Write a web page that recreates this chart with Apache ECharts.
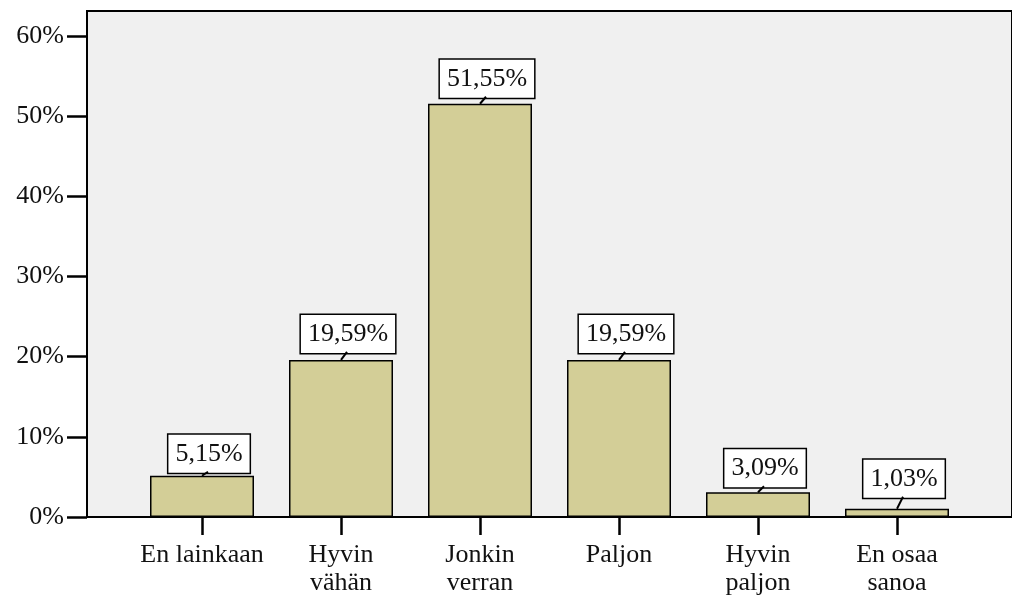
<!DOCTYPE html>
<html>
<head>
<meta charset="utf-8">
<script src="https://cdn.jsdelivr.net/npm/echarts@6/dist/echarts.min.js"></script>
<style>html,body{margin:0;padding:0;background:#fff}#c{width:1012px;height:600px}</style>
</head>
<body>
<div id="c"></div>
<script>
const categories = ["En lainkaan", "Hyvin\nvähän", "Jonkin\nverran", "Paljon", "Hyvin\npaljon", "En osaa\nsanoa"];
const values = [5.15, 19.59, 51.55, 19.59, 3.09, 1.03];
const yTicks = [0, 10, 20, 30, 40, 50, 60];
const labelGap = [3, 7, 6, 7, 5, 11];

const FONT = "'Liberation Serif', 'Times New Roman', serif";
const chart = echarts.init(document.getElementById('c'), null, {renderer: 'canvas'});
const Y_MAX = 63.12;

chart.setOption({
  animation: false,
  backgroundColor: '#ffffff',
  grid: [
    {left: 132.5, right: 45.5, top: 11, bottom: 83, show: false},
    {left: 87, right: -2, top: 11, bottom: 83, show: true, backgroundColor: '#F0F0F0', borderColor: '#000', borderWidth: 2, z: 0}
  ],
  xAxis: [
    {
      type: 'category', gridIndex: 0, data: categories,
      axisLine: {show: false},
      axisTick: {show: true, alignWithLabel: true, length: 18, lineStyle: {color: '#000', width: 2.5}},
      axisLabel: {color: '#111', fontFamily: FONT, fontSize: 26, lineHeight: 28, margin: 24, interval: 0}
    },
    {
      type: 'value', gridIndex: 1, min: 0, max: 1,
      axisLine: {show: true, onZero: false, lineStyle: {color: '#000', width: 2}},
      axisTick: {show: false}, axisLabel: {show: false}, splitLine: {show: false}
    }
  ],
  yAxis: [
    {
      type: 'value', gridIndex: 0, min: 0, max: Y_MAX,
      axisLine: {show: false}, axisTick: {show: false}, axisLabel: {show: false}, splitLine: {show: false}
    },
    {
      type: 'value', gridIndex: 1, min: 0, max: Y_MAX,
      axisLine: {show: true, lineStyle: {color: '#000', width: 2}},
      axisTick: {show: true, length: 20, customValues: yTicks, lineStyle: {color: '#000', width: 2.5}},
      axisLabel: {show: true, customValues: yTicks, formatter: v => v + '%', color: '#111', fontFamily: FONT, fontSize: 26, margin: 23, padding: [6, 0, 0, 0]},
      splitLine: {show: false}
    }
  ],
  series: [{
    type: 'bar', xAxisIndex: 0, yAxisIndex: 0,
    barWidth: 104,
    itemStyle: {color: '#D3CE97', borderColor: '#000', borderWidth: 1.5},
    data: values.map((v, i) => ({value: v, label: {distance: labelGap[i]}})),
    label: {
      show: true, position: 'top', offset: [7, 0],
      formatter: p => p.value.toFixed(2).replace('.', ',') + '%',
      color: '#111', fontFamily: FONT, fontSize: 26, lineHeight: 28,
      backgroundColor: '#fff', borderColor: '#000', borderWidth: 1.5,
      padding: [5, 7, 5, 7]
    }
  }, {
    type: 'custom', xAxisIndex: 0, yAxisIndex: 0, z: 5,
    data: values.map((v, i) => [i, v]),
    renderItem: (params, api) => {
      const p = api.coord([api.value(0), api.value(1)]);
      const gap = labelGap[params.dataIndex];
      return {
        type: 'line',
        shape: {x1: p[0], y1: p[1], x2: p[0] + 6, y2: p[1] - gap - 1},
        style: {stroke: '#000', lineWidth: 2}
      };
    }
  }]
});
</script>
</body>
</html>
